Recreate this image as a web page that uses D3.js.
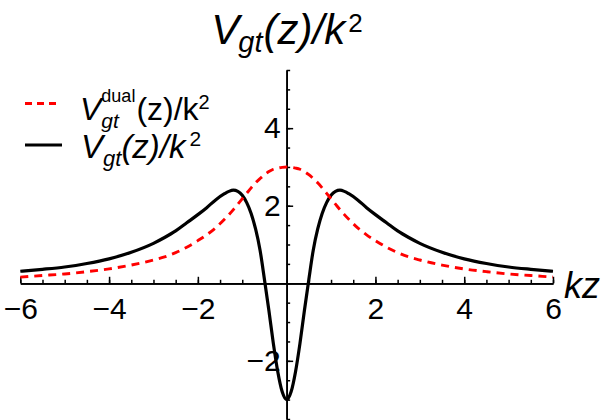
<!DOCTYPE html>
<html><head><meta charset="utf-8">
<script src="https://cdn.jsdelivr.net/npm/d3@7"></script>
<style>
html,body{margin:0;padding:0;background:#fff;}
svg{display:block;font-family:"Liberation Sans",Arial,Helvetica,sans-serif;}
</style></head>
<body>
<svg id="chart" width="610" height="420"></svg>
<script>
// ---- data ----
const zValues = [-6,-5.5,-5,-4.5,-4,-3.5,-3,-2.75,-2.5,-2.25,-2,-1.8,-1.6,-1.4,-1.3,-1.2,-1.1,-1,-0.9,-0.8,-0.7,-0.6,-0.5,-0.4,-0.3,-0.2,-0.1,0,
  0.1,0.2,0.3,0.4,0.5,0.6,0.7,0.8,0.9,1,1.1,1.2,1.3,1.4,1.6,1.8,2,2.25,2.5,2.75,3,3.5,4,4.5,5,5.5,6];
const dualValues = [0.16,0.20,0.24,0.30,0.37,0.47,0.60,0.68,0.79,0.93,1.10,1.25,1.43,1.65,1.77,1.90,2.04,2.18,2.32,2.46,2.59,2.70,2.80,2.88,2.94,2.97,2.99,3.00,
  2.99,2.97,2.94,2.88,2.80,2.70,2.59,2.46,2.32,2.18,2.04,1.90,1.77,1.65,1.43,1.25,1.10,0.93,0.79,0.68,0.60,0.47,0.37,0.30,0.24,0.20,0.16];
const gtValues = [0.31,0.36,0.42,0.51,0.63,0.80,1.03,1.18,1.35,1.56,1.77,1.95,2.15,2.31,2.37,2.40,2.37,2.27,2.08,1.80,1.40,0.86,0.10,-0.70,-1.55,-2.28,-2.80,-3.00,
  -2.80,-2.28,-1.55,-0.70,0.10,0.86,1.40,1.80,2.08,2.27,2.37,2.40,2.37,2.31,2.15,1.95,1.77,1.56,1.35,1.18,1.03,0.80,0.63,0.51,0.42,0.36,0.31];
const xMajorTicks = [-6,-4,-2,2,4,6];
const yMajorTicks = [-2,2,4];
const xDomain = [-6,6];
const yDomain = [-3.5,5.5];

const svg = d3.select('#chart');
const x = d3.scaleLinear().domain(xDomain).range([20.3,553]);
const y = d3.scaleLinear().domain(yDomain).range([419,70]);

const minorX = d3.range(-6,6.001,0.5);
const minorY = d3.range(-3.5,5.501,0.5);
const fmt = d => d < 0 ? '\u2212' + Math.abs(d) : String(d);

const gxMinor = svg.append('g').attr('transform',`translate(0,${y(0)})`)
  .call(d3.axisBottom(x).tickValues(minorX).tickSizeInner(-3.5).tickSizeOuter(0).tickFormat(''));
const gx = svg.append('g').attr('transform',`translate(0,${y(0)})`)
  .call(d3.axisBottom(x).tickValues(xMajorTicks).tickSizeInner(-6.5).tickSizeOuter(0).tickPadding(14.5).tickFormat(fmt));
const gyMinor = svg.append('g').attr('transform',`translate(${x(0)},0)`)
  .call(d3.axisLeft(y).tickValues(minorY).tickSizeInner(-3.5).tickSizeOuter(0).tickFormat(''));
const gy = svg.append('g').attr('transform',`translate(${x(0)},0)`)
  .call(d3.axisLeft(y).tickValues(yMajorTicks).tickSizeInner(-6.5).tickSizeOuter(0).tickPadding(6).tickFormat(fmt));

[gxMinor,gx,gyMinor,gy].forEach(g => {
  g.selectAll('.domain').attr('stroke','#000').attr('stroke-width',1.7);
  g.selectAll('.tick line').attr('stroke','#000').attr('stroke-width',1.5);
  g.selectAll('.tick text').attr('fill','#000').attr('font-size',30)
   .attr('font-family','"Liberation Sans",Arial,sans-serif');
});

// curves
const pts = (vals) => zValues.map((z,i) => [z, vals[i]]);
const line = d3.line().x(d => x(d[0])).y(d => y(d[1])).curve(d3.curveMonotoneX);

svg.append('path').datum(pts(gtValues)).attr('d',line)
  .attr('fill','none').attr('stroke','#000').attr('stroke-width',3.2).attr('stroke-linejoin','round');
svg.append('path').datum(pts(dualValues)).attr('d',line)
  .attr('fill','none').attr('stroke','#ff0000').attr('stroke-width',2.9).attr('stroke-dasharray','8,6');

// rich text: one <text> element, tspans positioned absolutely after measuring
function measure(p) {
  const t = svg.append('text').attr('font-size',p.size)
    .attr('font-style',p.italic ? 'italic' : 'normal').text(p.t);
  const w = t.node().getComputedTextLength();
  t.remove();
  return w;
}
function rich(x0, y0, parts) {
  const placed = [];
  let cx = x0;
  parts.forEach(p => {
    const items = p.stack ? p.stack : [p];
    let w = 0;
    items.forEach(q => {
      placed.push({q, px: cx + (q.dx||0), py: y0 + (q.shift||0)});
      w = Math.max(w, measure(q) + (q.dx||0));
    });
    cx += w;
  });
  const text = svg.append('text').attr('fill','#000');
  placed.forEach(o => {
    text.append('tspan').attr('x',o.px).attr('y',o.py)
      .attr('font-size',o.q.size).attr('font-style',o.q.italic ? 'italic' : 'normal')
      .text(o.q.t);
  });
  return {text, width: cx - x0};
}

// title (measured then centered)
const titleParts = [
  {t:'V', size:42, italic:true},
  {t:'gt', size:29, italic:true, shift:8, dx:-1},
  {t:'(z)/k', size:42, italic:true, dx:1},
  {t:'2', size:26, shift:-12, dx:3}
];
let tw = 0;
titleParts.forEach(p => tw += measure(p) + (p.dx||0));
rich(287 - tw/2, 44, titleParts);

// x label
svg.append('text').attr('x',564).attr('y',298).attr('font-size',36)
  .attr('font-style','italic').attr('fill','#000').text('kz');

// legend
svg.append('line').attr('x1',25).attr('x2',59).attr('y1',103.5).attr('y2',103.5)
  .attr('stroke','#ff0000').attr('stroke-width',2.9).attr('stroke-dasharray','7,5');
svg.append('line').attr('x1',25).attr('x2',62).attr('y1',145).attr('y2',145)
  .attr('stroke','#000').attr('stroke-width',3.2);

rich(80, 120, [
  {t:'V', size:32, italic:true},
  {stack:[{t:'dual', size:18, shift:-18, dx:0},{t:'gt', size:21, italic:true, shift:8, dx:0}]},
  {t:'(z)/k', size:32, dx:1},
  {t:'2', size:20, shift:-11, dx:0}
]);
rich(81, 158, [
  {t:'V', size:33, italic:true},
  {t:'gt', size:22, italic:true, shift:8, dx:0},
  {t:'(z)/k', size:33, italic:true, dx:0},
  {t:'2', size:21, shift:-12, dx:4}
]);
</script>
</body></html>
